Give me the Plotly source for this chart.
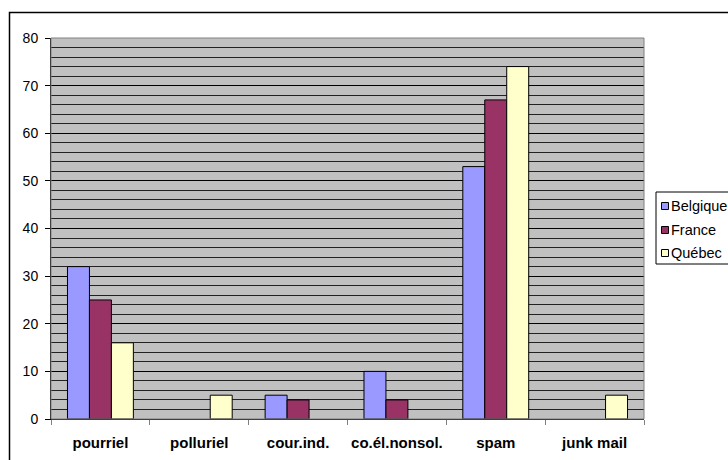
import plotly.graph_objects as go

categories = ["pourriel", "polluriel", "cour.ind.", "co.él.nonsol.", "spam", "junk mail"]
series_names = ["Belgique", "France", "Québec"]
belgique = [32, None, 5, 10, 53, None]
france = [25, None, 4, 4, 67, None]
quebec = [16, 5, None, None, 74, 5]
series_values = [belgique, france, quebec]
colors = ["#9999FF", "#993366", "#FFFFCC"]
y_ticks = [0, 10, 20, 30, 40, 50, 60, 70, 80]

W, H = 728, 460
L, R, T, B = 51, 644, 38, 419
FONT = "Arial, 'Liberation Sans', sans-serif"

def px(x):
    return (x - L) / (R - L)

def py(y):
    return (B - y) / (B - T)

fig = go.Figure()
for name, vals, col in zip(series_names, series_values, colors):
    fig.add_trace(go.Bar(
        x=categories, y=vals, name=name,
        marker=dict(color=col, line=dict(color="black", width=1)),
        showlegend=False,
    ))

shapes = [
    dict(type="rect", xref="paper", yref="paper",
         x0=px(9.5), x1=px(760), y0=py(12.5), y1=py(480),
         line=dict(color="black", width=1.5), fillcolor="rgba(0,0,0,0)", layer="below"),
    dict(type="rect", xref="paper", yref="paper",
         x0=0, x1=1, y0=0, y1=1,
         line=dict(color="#808080", width=1), fillcolor="rgba(0,0,0,0)", layer="above"),
    dict(type="rect", xref="paper", yref="paper",
         x0=px(656), x1=px(760), y0=py(192), y1=py(264),
         line=dict(color="black", width=1), fillcolor="white"),
]
annotations = []
row_y = [206, 230, 253]
for name, col, yy in zip(series_names, colors, row_y):
    shapes.append(dict(type="rect", xref="paper", yref="paper",
                       x0=px(661.5), x1=px(668.5), y0=py(yy + 3.5), y1=py(yy - 3.5),
                       line=dict(color="black", width=1), fillcolor=col))
    annotations.append(dict(xref="paper", yref="paper", x=px(669), y=py(yy),
                            text=name, showarrow=False, xanchor="left", yanchor="middle",
                            font=dict(family=FONT, size=14.5, color="black")))

fig.update_layout(
    width=W, height=H,
    margin=dict(l=L, r=W - R, t=T, b=H - B, pad=0, autoexpand=False),
    paper_bgcolor="white", plot_bgcolor="#C0C0C0",
    barmode="group", bargap=1/3, bargroupgap=0,
    font=dict(family=FONT, size=14, color="black"),
    shapes=shapes, annotations=annotations,
    showlegend=False,
)
fig.update_xaxes(
    showgrid=False, tickson="boundaries", ticks="outside", ticklen=5,
    tickcolor="#808080", showline=True, linecolor="black", linewidth=1,
    tickfont=dict(family=FONT, size=15, color="black", weight="bold"),
    ticklabelstandoff=10, tickangle=0, automargin=False,
)
fig.update_yaxes(
    range=[0, 80], tickvals=y_ticks, ticks="outside", ticklen=5, tickcolor="black",
    showline=True, linecolor="black", linewidth=1,
    showgrid=True, gridcolor="black", gridwidth=1,
    minor=dict(dtick=2, showgrid=True, gridcolor="#222222", gridwidth=1),
    zeroline=False, automargin=False,
    tickfont=dict(family=FONT, size=14, color="black"),
    ticklabelstandoff=4,
)

fig.write_html("out.html")
